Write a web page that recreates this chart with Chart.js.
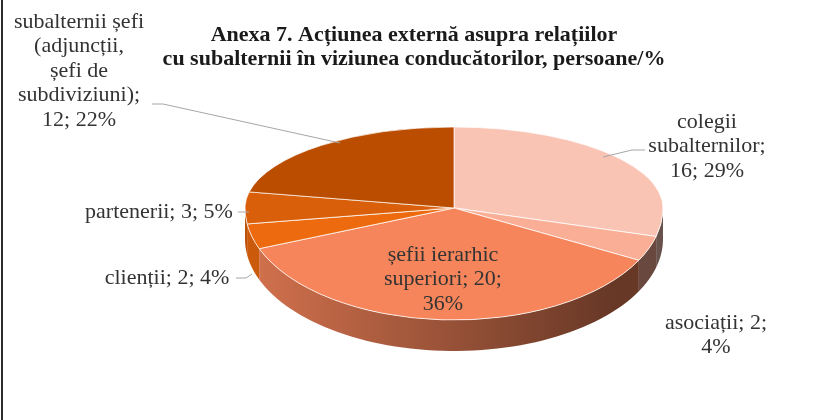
<!DOCTYPE html>
<html>
<head>
<meta charset="utf-8">
<script src="https://cdn.jsdelivr.net/npm/chart.js@4"></script>
<style>
  body { margin: 0; background: #fff; }
  canvas { display: block; }
</style>
</head>
<body>
<canvas id="pie3d" width="830" height="420"></canvas>
<script>
const titleLines = ['Anexa 7. Acțiunea externă asupra relațiilor', 'cu subalternii în viziunea conducătorilor, persoane/%'];
const labels = ['colegii subalternilor', 'asociații', 'șefii ierarhic superiori', 'clienții', 'partenerii', 'subalternii șefi (adjuncții, șefi de subdiviziuni)'];
const values = [16, 2, 20, 2, 3, 12];
const colors = ['#F9C4B4', '#F9AE95', '#F7855B', '#EE6A0E', '#DA5F0A', '#BA4D00'];

// geometry of the tilted pie
const CX = 454, CY = 208, R = 209;
const KT = 81 / 209, KB = 112 / 209; // vertical squash, far half / near half
const DEPTH = 31;

// label placement: centre x, first line y, words per line, leader line
const labelPos = [
    { x: 707, y: 122, words: [1, 1, 2], leader: [[645, 150], [632, 150], [603, 157]] },
    { x: 716, y: 323, words: [2, 1], leader: null },
    { x: 443, y: 255, words: [2, 2, 1], leader: null },
    { x: 167, y: 278, words: [3], leader: [[236, 278], [246, 278], [252, 274]] },
    { x: 159, y: 212, words: [3], leader: [[238, 212], [249, 212]] },
    { x: 79, y: 22, words: [2, 1, 2, 1, 2], leader: [[152, 104], [163, 104], [340, 143]] }
];

const total = values.reduce((a, b) => a + b, 0);

function shade(hex, f) {
    const n = parseInt(hex.slice(1), 16);
    const r = Math.round(((n >> 16) & 255) * f), g = Math.round(((n >> 8) & 255) * f), b = Math.round((n & 255) * f);
    return `rgb(${r},${g},${b})`;
}

function splitLines(text, counts) {
    const words = text.split(' ');
    const lines = [];
    let k = 0;
    counts.forEach(c => {
        lines.push(words.slice(k, k + c).join(' '));
        k += c;
    });
    if (k < words.length) lines.push(words.slice(k).join(' '));
    return lines;
}

const pie3dPlugin = {
    id: 'pie3d',
    beforeDatasetsDraw(chart) {
        const ctx = chart.ctx;
        const meta = chart.getDatasetMeta(0);

        // side walls (only the near half is visible)
        meta.data.forEach((arc, i) => {
            const a = Math.max(arc.startAngle, 0);
            const b = Math.min(arc.endAngle, Math.PI);
            if (b <= a) return;
            const n = 60;
            ctx.save();
            ctx.beginPath();
            for (let j = 0; j <= n; j++) {
                const t = a + (b - a) * j / n;
                const x = CX + R * Math.cos(t), y = CY + R * KB * Math.sin(t);
                j ? ctx.lineTo(x, y) : ctx.moveTo(x, y);
            }
            for (let j = n; j >= 0; j--) {
                const t = a + (b - a) * j / n;
                ctx.lineTo(CX + R * Math.cos(t), CY + R * KB * Math.sin(t) + DEPTH);
            }
            ctx.closePath();
            const grad = ctx.createLinearGradient(CX - R, 0, CX + R * 0.75, 0);
            grad.addColorStop(0, shade(colors[i], 0.86));
            grad.addColorStop(1, shade(colors[i], 0.42));
            ctx.fillStyle = grad;
            ctx.fill();
            ctx.restore();
        });

        // top face, drawn in two halves with different squash
        const halves = [
            { y0: CY, y1: chart.height, k: KB },
            { y0: 0, y1: CY + 0.5, k: KT }
        ];
        halves.forEach(h => {
            ctx.save();
            ctx.beginPath();
            ctx.rect(0, h.y0, chart.width, h.y1 - h.y0);
            ctx.clip();
            meta.data.forEach(arc => {
                ctx.save();
                ctx.translate(CX, CY);
                ctx.scale(R / arc.outerRadius, h.k * R / arc.outerRadius);
                ctx.translate(-arc.x, -arc.y);
                arc.draw(ctx);
                ctx.restore();
            });
            ctx.restore();
        });
        return false;
    },
    afterDraw(chart) {
        const ctx = chart.ctx;
        ctx.save();

        // left frame line
        ctx.fillStyle = '#2b2b2b';
        ctx.fillRect(1, 0, 2, chart.height);

        // title
        ctx.fillStyle = '#1a1a1a';
        ctx.font = 'bold 22px "Liberation Serif", "Times New Roman", serif';
        ctx.textAlign = 'center';
        ctx.textBaseline = 'middle';
        titleLines.forEach((t, i) => ctx.fillText(t, 414, 35 + i * 24));

        // data labels
        ctx.font = '22px "Liberation Serif", "Times New Roman", serif';
        labels.forEach((name, i) => {
            const p = labelPos[i];
            const pct = Math.round(values[i] / total * 100);
            const text = `${name}; ${values[i]}; ${pct}%`;
            const lines = splitLines(text, p.words);
            ctx.fillStyle = '#333333';
            lines.forEach((l, j) => ctx.fillText(l, p.x, p.y + j * 24.5));
            if (p.leader) {
                ctx.strokeStyle = '#a6a6a6';
                ctx.lineWidth = 1;
                ctx.beginPath();
                p.leader.forEach((pt, j) => j ? ctx.lineTo(pt[0], pt[1]) : ctx.moveTo(pt[0], pt[1]));
                ctx.stroke();
            }
        });
        ctx.restore();
    }
};

new Chart(document.getElementById('pie3d').getContext('2d'), {
    type: 'pie',
    data: {
        labels: labels,
        datasets: [{
            data: values,
            backgroundColor: colors,
            borderColor: '#ffffff',
            borderWidth: 1,
            radius: 209
        }]
    },
    options: {
        responsive: false,
        animation: false,
        plugins: {
            legend: { display: false },
            tooltip: { enabled: false }
        }
    },
    plugins: [pie3dPlugin]
});
</script>
</body>
</html>
